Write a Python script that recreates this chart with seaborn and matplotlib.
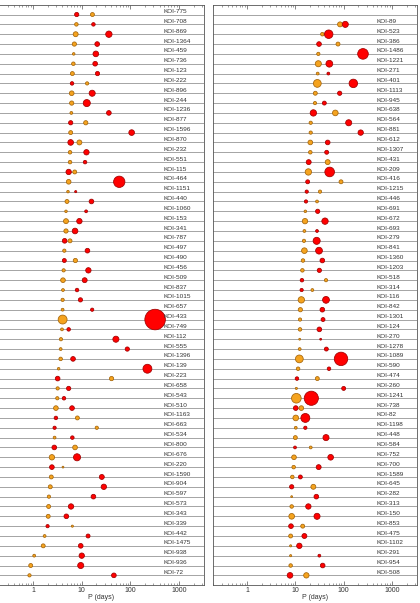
import matplotlib
matplotlib.use("Agg")
import matplotlib.pyplot as plt
from matplotlib.ticker import LogLocator, NullFormatter, FixedLocator, FixedFormatter
import pandas as pd
import seaborn as sns

# ---- data (period in days, radius in rough Earth radii) ----
names_left = ["KOI-775", "KOI-708", "KOI-869", "KOI-1364", "KOI-459", "KOI-736", "KOI-123",
              "KOI-222", "KOI-896", "KOI-244", "KOI-1236", "KOI-877", "KOI-1596", "KOI-870",
              "KOI-232", "KOI-551", "KOI-115", "KOI-464", "KOI-1151", "KOI-440", "KOI-1060",
              "KOI-153", "KOI-341", "KOI-787", "KOI-497", "KOI-490", "KOI-456", "KOI-509",
              "KOI-837", "KOI-1015", "KOI-657", "KOI-433", "KOI-749", "KOI-112", "KOI-555",
              "KOI-1396", "KOI-139", "KOI-223", "KOI-658", "KOI-543", "KOI-510", "KOI-1163",
              "KOI-663", "KOI-534", "KOI-800", "KOI-676", "KOI-220", "KOI-1590", "KOI-904",
              "KOI-597", "KOI-573", "KOI-343", "KOI-339", "KOI-442", "KOI-1475", "KOI-938",
              "KOI-936", "KOI-72"]
orange_p_left = [16.6, 7.76, 7.5, 7.05, 6.83, 6.72, 6.41, 12.9, 6.21, 6.21, 6.11, 12.1, 5.92, 8.95,
                 5.74, 5.74, 7.17, 5.38, 5.21, 4.97, 4.74, 4.74, 4.74, 5.74, 4.38, 7.39, 4.24, 4.11,
                 4.11, 4.04, 4.04, 4.04, 3.92, 3.73, 3.68, 3.68, 3.34, 41.1, 3.19, 3.14, 2.94, 8.13,
                 20.4, 2.76, 7.28, 2.43, 4.11, 2.36, 2.25, 2.11, 2.08, 2.04, 6.41, 1.72, 1.61, 1.05,
                 0.89, 0.84]
orange_r_left = [2.8, 2.5, 3.5, 3.0, 1.8, 2.5, 2.8, 2.3, 3.3, 3.0, 2.0, 3.0, 2.8, 3.5,
                 2.5, 2.5, 2.8, 3.3, 1.8, 2.8, 1.8, 3.5, 3.0, 2.8, 2.3, 3.0, 2.3, 3.3,
                 2.0, 2.3, 2.0, 6.3, 2.0, 2.3, 2.0, 2.5, 1.8, 3.0, 2.3, 2.3, 3.3, 2.8,
                 2.3, 2.0, 3.3, 3.8, 1.3, 2.8, 2.8, 2.3, 2.8, 2.8, 1.5, 2.0, 2.8, 2.0,
                 2.8, 2.3]
red_p_left = [7.88, 17.4, 36.2, 20.8, 19.5, 18.9, 21.1, 6.31, 16.4, 12.7, 36.2, 5.92, 106.6, 5.92,
              12.5, 11.7, 5.38, 59.2, 7.51, 15.85, 12.3, 8.95, 7.28, 4.45, 13.1, 4.38, 13.7, 11.5,
              8.0, 9.4, 16.4, 324.0, 5.38, 50.5, 86.7, 6.62, 225.0, 3.19, 5.38, 4.31, 6.31, 2.94,
              2.76, 6.41, 2.72, 8.0, 2.43, 25.9, 28.5, 17.4, 6.02, 4.82, 1.98, 13.5, 9.53, 10.0,
              9.53, 45.9]
red_r_left = [3.0, 2.5, 4.5, 3.3, 4.0, 3.3, 3.0, 2.5, 4.3, 5.0, 3.3, 3.0, 4.0, 4.0,
              3.8, 2.5, 3.8, 8.0, 1.5, 3.3, 2.0, 3.8, 4.0, 3.3, 3.3, 2.8, 3.8, 3.5,
              2.5, 3.0, 2.3, 14.5, 2.5, 4.3, 3.0, 3.3, 6.3, 3.3, 3.0, 2.5, 3.3, 2.5,
              2.3, 2.5, 3.3, 5.0, 3.3, 3.5, 3.8, 3.3, 3.8, 3.3, 2.3, 2.8, 3.3, 3.8,
              4.3, 3.3]

names_right = ["KOI-89", "KOI-523", "KOI-386", "KOI-1486", "KOI-1221", "KOI-271", "KOI-401",
               "KOI-1113", "KOI-945", "KOI-638", "KOI-564", "KOI-881", "KOI-612", "KOI-1307",
               "KOI-431", "KOI-209", "KOI-416", "KOI-1215", "KOI-446", "KOI-691", "KOI-672",
               "KOI-693", "KOI-279", "KOI-841", "KOI-1360", "KOI-1203", "KOI-518", "KOI-314",
               "KOI-116", "KOI-842", "KOI-1301", "KOI-124", "KOI-270", "KOI-1278", "KOI-1089",
               "KOI-590", "KOI-474", "KOI-260", "KOI-1241", "KOI-738", "KOI-82", "KOI-1198",
               "KOI-448", "KOI-584", "KOI-752", "KOI-700", "KOI-1589", "KOI-645", "KOI-282",
               "KOI-313", "KOI-150", "KOI-853", "KOI-475", "KOI-1102", "KOI-291", "KOI-954",
               "KOI-508"]
orange_p_right = [84.0, 36.2, 76.3, 29.9, 29.9, 29.0, 28.5, 25.9, 25.5, 67.2, 20.8, 20.8, 20.4, 20.4,
                  46.7, 18.6, 88.1, 32.4, 28.1, 16.1, 15.85, 15.4, 15.1, 15.4, 14.4, 14.0, 43.1, 22.5,
                  13.3, 12.7, 12.5, 12.5, 12.3, 12.3, 12.1, 11.4, 28.5, 10.5, 10.5, 13.3, 10.2, 10.2,
                  10.0, 20.8, 9.38, 9.24, 8.66, 23.6, 8.4, 8.4, 8.4, 14.2, 8.0, 8.0, 8.0, 8.0, 16.9]
orange_r_right = [3.5, 2.5, 2.8, 2.3, 4.3, 2.0, 5.5, 2.8, 2.3, 4.0, 2.3, 2.3, 3.3, 2.5,
                  3.5, 4.5, 2.8, 2.3, 2.0, 1.8, 3.8, 2.0, 2.3, 4.0, 2.5, 2.5, 2.3, 2.0,
                  4.5, 3.0, 2.3, 2.5, 1.3, 2.0, 5.5, 2.5, 2.8, 1.5, 6.8, 3.3, 4.0, 2.0,
                  2.8, 2.0, 3.3, 2.5, 2.5, 3.5, 1.3, 2.5, 4.0, 2.8, 2.8, 1.5, 1.5, 2.5, 3.8]
red_p_right = [108.0, 49.0, 30.9, 251.0, 50.5, 48.2, 158.5, 82.7, 39.8, 23.6, 127.0, 225.0, 46.7, 44.5,
               18.9, 51.3, 18.0, 17.2, 16.6, 29.0, 41.1, 28.1, 27.6, 30.9, 36.2, 31.4, 13.7, 13.5,
               43.1, 36.2, 37.4, 31.4, 33.4, 43.8, 88.1, 49.7, 10.8, 100.0, 21.4, 10.2, 16.1, 16.1,
               43.1, 9.84, 53.8, 30.4, 12.7, 8.4, 27.2, 18.6, 28.1, 8.13, 15.4, 12.1, 31.4, 36.8, 7.76]
red_r_right = [4.3, 6.0, 3.3, 7.5, 4.8, 2.0, 6.0, 3.0, 2.8, 4.5, 4.3, 3.8, 3.3, 2.8,
               3.5, 6.8, 2.8, 2.3, 2.3, 3.0, 4.5, 2.0, 5.0, 4.8, 3.3, 3.0, 2.5, 2.3,
               4.8, 3.3, 2.8, 3.3, 1.3, 2.8, 9.5, 2.5, 2.5, 2.8, 10.0, 3.3, 6.3, 2.3,
               4.3, 2.0, 4.0, 3.5, 2.8, 3.0, 3.3, 3.8, 4.3, 3.3, 3.5, 3.8, 2.0, 3.3, 4.0]

tick_vals = [1, 10, 100, 1000]
tick_text = ["1", "10", "100", "1000"]

sns.set_style("ticks")
plt.rcParams["font.family"] = ["Liberation Sans", "DejaVu Sans"]

ORANGE = "#f5a31e"
RED = "#ff0000"


def panel_frame(names, p, r, first_slot):
    df = pd.DataFrame({"name": names, "P": p, "R": r})
    df["slot"] = range(first_slot, first_slot + len(names))
    df["area"] = (1.02 * df["R"]) ** 2
    return df


def draw_panel(ax, names, op, orad, rp, rrad, first_slot):
    orange = panel_frame(names, op, orad, first_slot)
    red = panel_frame(names, rp, rrad, first_slot)
    allarea = pd.concat([orange["area"], red["area"]])
    lo, hi = allarea.min(), allarea.max()

    for slot in range(58):
        ax.axhline(slot, color="#8c8c8c", lw=0.55, zorder=1)

    sns.scatterplot(data=orange, x="P", y="slot", size="area", sizes=(lo, hi), size_norm=(lo, hi),
                    color=ORANGE, edgecolor="#a5650a", linewidth=0.55, legend=False, ax=ax, zorder=3)
    sns.scatterplot(data=red, x="P", y="slot", size="area", sizes=(lo, hi), size_norm=(lo, hi),
                    color=RED, edgecolor="#a00000", linewidth=0.55, legend=False, ax=ax, zorder=4)

    for name, slot in zip(orange["name"], orange["slot"]):
        ax.text(480, slot - 0.3, name, fontsize=4.6, color="#333333", va="center", ha="left", zorder=5)

    ax.set_xscale("log")
    ax.set_xlim(0.197, 3290)
    ax.set_ylim(57.95, -1.02)
    ax.xaxis.set_major_locator(FixedLocator(tick_vals))
    ax.xaxis.set_major_formatter(FixedFormatter(tick_text))
    ax.xaxis.set_minor_locator(LogLocator(base=10, subs=range(2, 10)))
    ax.xaxis.set_minor_formatter(NullFormatter())
    ax.tick_params(axis="x", which="both", direction="in", top=True, bottom=True,
                   labelsize=5, color="#555555", labelcolor="#333333", pad=2)
    ax.tick_params(axis="x", which="major", length=3, width=0.5)
    ax.tick_params(axis="x", which="minor", length=1.5, width=0.4)
    ax.tick_params(axis="y", left=False, labelleft=False)
    ax.set_ylabel("")
    ax.set_xlabel("P (days)", fontsize=5, color="#333333", labelpad=0)
    for sp in ax.spines.values():
        sp.set_color("#555555")
        sp.set_linewidth(0.6)


fig = plt.figure(figsize=(4.2, 6.03), dpi=100)
ax1 = fig.add_axes([-1.1 / 420, 18.3 / 603, 205.1 / 420, 580.2 / 603])
ax2 = fig.add_axes([212.9 / 420, 18.3 / 603, 204.1 / 420, 580.2 / 603])

draw_panel(ax1, names_left, orange_p_left, orange_r_left, red_p_left, red_r_left, 0)
draw_panel(ax2, names_right, orange_p_right, orange_r_right, red_p_right, red_r_right, 1)

fig.savefig("out.png", dpi=100)
